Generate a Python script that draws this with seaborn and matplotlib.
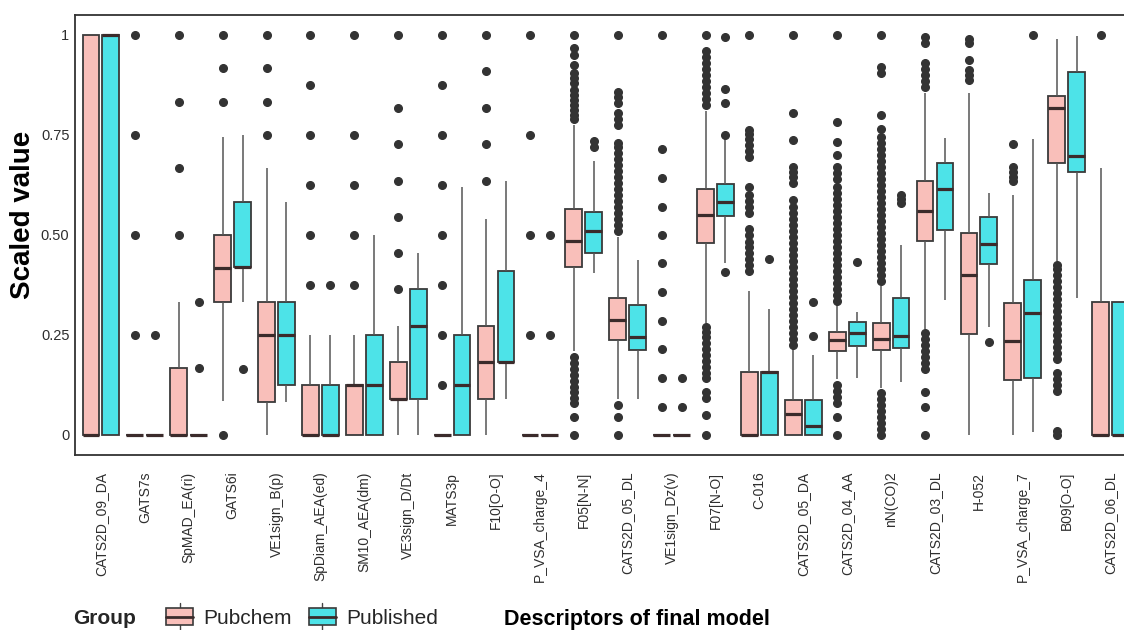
import numpy as np
import pandas as pd
import matplotlib
matplotlib.use("Agg")
import matplotlib.pyplot as plt
import seaborn as sns
from matplotlib.legend_handler import HandlerBase
from matplotlib.patches import Rectangle, Patch
from matplotlib.lines import Line2D

# ---------------- data ----------------
descriptors = ["CATS2D_09_DA", "GATS7s", "SpMAD_EA(ri)", "GATS6i", "VE1sign_B(p)",
               "SpDiam_AEA(ed)", "SM10_AEA(dm)", "VE3sign_D/Dt", "MATS3p", "F10[O-O]",
               "P_VSA_charge_4", "F05[N-N]", "CATS2D_05_DL", "VE1sign_Dz(v)", "F07[N-O]",
               "C-016", "CATS2D_05_DA", "CATS2D_04_AA", "nN(CO)2", "CATS2D_03_DL",
               "H-052", "P_VSA_charge_7", "B09[O-O]", "CATS2D_06_DL"]
groups = ["Pubchem", "Published"]

# Pubchem box statistics
pub_lo  = [0, 0, 0, 0.085, 0, 0, 0, 0, 0, 0, 0, 0.21, 0.09, 0, 0.28, 0, 0, 0.14, 0.118, 0.265, 0, 0, 0.435, 0]
pub_q1  = [0, 0, 0, 0.333, 0.083, 0, 0, 0.091, 0, 0.091, 0, 0.419, 0.2375, 0, 0.48, 0, 0, 0.21, 0.2125, 0.486, 0.2525, 0.1375, 0.68, 0]
pub_med = [0, 0, 0, 0.417, 0.25, 0, 0.125, 0.091, 0, 0.182, 0, 0.484, 0.2875, 0, 0.55, 0, 0.052, 0.2375, 0.24, 0.56, 0.4, 0.235, 0.8175, 0]
pub_q3  = [1, 0, 0.167, 0.5, 0.333, 0.125, 0.125, 0.182, 0, 0.273, 0, 0.564, 0.343, 0, 0.615, 0.157, 0.0875, 0.2575, 0.28, 0.635, 0.505, 0.33, 0.8475, 0.333]
pub_hi  = [1, 0, 0.333, 0.745, 0.667, 0.25, 0.25, 0.273, 0, 0.54, 0, 0.775, 0.495, 0, 0.81, 0.36, 0.215, 0.325, 0.3725, 0.855, 0.855, 0.6, 0.99, 0.667]
pub_out = [
    [],
    [0.25, 0.5, 0.75, 1.0],
    [0.5, 0.667, 0.833, 1.0],
    [0.0, 0.833, 0.917, 1.0],
    [0.75, 0.833, 0.917, 1.0],
    [0.375, 0.5, 0.625, 0.75, 0.875, 1.0],
    [0.375, 0.5, 0.625, 0.75, 1.0],
    [0.364, 0.455, 0.545, 0.636, 0.727, 0.818, 1.0],
    [0.125, 0.25, 0.375, 0.5, 0.625, 0.75, 0.875, 1.0],
    [0.636, 0.727, 0.818, 0.909, 1.0],
    [0.25, 0.5, 0.75, 1.0],
    [0.0, 0.044, 0.08, 0.092, 0.108, 0.12, 0.135, 0.15, 0.165, 0.18, 0.195,
     0.79, 0.80, 0.812, 0.825, 0.837, 0.85, 0.862, 0.88, 0.893, 0.905, 0.925, 0.95, 0.967, 1.0],
    [0.0, 0.044, 0.075, 0.51, 0.525, 0.54, 0.555, 0.57, 0.585, 0.60, 0.615, 0.63, 0.645,
     0.66, 0.675, 0.69, 0.705, 0.72, 0.73, 0.775, 0.79, 0.805, 0.83, 0.845, 0.858, 1.0],
    [0.071, 0.143, 0.214, 0.286, 0.357, 0.429, 0.5, 0.571, 0.643, 0.714, 1.0],
    [0.0, 0.05, 0.093, 0.108, 0.142, 0.155, 0.17, 0.185, 0.2, 0.215, 0.23, 0.245, 0.258, 0.27,
     0.825, 0.84, 0.855, 0.87, 0.885, 0.90, 0.915, 0.93, 0.945, 0.96, 1.0],
    [0.41, 0.425, 0.44, 0.455, 0.47, 0.483, 0.50, 0.515, 0.555, 0.57, 0.585, 0.60, 0.62,
     0.695, 0.71, 0.725, 0.74, 0.752, 0.763, 1.0],
    [0.225, 0.24, 0.255, 0.27, 0.285, 0.30, 0.315, 0.33, 0.345, 0.36, 0.375, 0.39, 0.405,
     0.42, 0.435, 0.45, 0.465, 0.48, 0.495, 0.51, 0.525, 0.54, 0.555, 0.57, 0.587, 0.63,
     0.645, 0.658, 0.67, 0.7375, 0.804, 1.0],
    [0.0, 0.046, 0.08, 0.095, 0.11, 0.125, 0.335, 0.35, 0.365, 0.38, 0.395, 0.41, 0.425,
     0.44, 0.455, 0.47, 0.485, 0.50, 0.515, 0.53, 0.545, 0.56, 0.575, 0.59, 0.605, 0.62,
     0.64, 0.655, 0.67, 0.70, 0.7325, 0.7825, 1.0],
    [0.0, 0.015, 0.03, 0.045, 0.06, 0.075, 0.09, 0.105, 0.385, 0.40, 0.415, 0.43, 0.445,
     0.46, 0.475, 0.49, 0.505, 0.52, 0.535, 0.55, 0.565, 0.58, 0.595, 0.61, 0.625, 0.64,
     0.655, 0.67, 0.685, 0.70, 0.715, 0.73, 0.745, 0.765, 0.80, 0.905, 0.92, 1.0],
    [0.0, 0.071, 0.108, 0.165, 0.18, 0.195, 0.21, 0.225, 0.24, 0.255,
     0.87, 0.885, 0.90, 0.915, 0.93, 0.98, 0.995],
    [0.888, 0.90, 0.912, 0.9375, 0.98, 0.99],
    [0.635, 0.645, 0.658, 0.67, 0.7275],
    [0.0, 0.01, 0.11, 0.125, 0.14, 0.155, 0.19, 0.205, 0.22, 0.235, 0.25, 0.265, 0.28,
     0.295, 0.31, 0.325, 0.34, 0.355, 0.37, 0.385, 0.40, 0.415, 0.425],
    [1.0],
]

# Published box statistics
pbl_lo  = [0, 0, 0, 0.333, 0.083, 0, 0, 0, 0, 0.091, 0, 0.404, 0.091, 0, 0.43, 0, 0, 0.1425, 0.1325, 0.3375, 0.27, 0.0075, 0.3425, 0]
pbl_q1  = [0, 0, 0, 0.42, 0.125, 0, 0, 0.091, 0, 0.182, 0, 0.454, 0.2125, 0, 0.547, 0, 0, 0.2225, 0.2175, 0.5125, 0.4275, 0.1425, 0.6575, 0]
pbl_med = [1, 0, 0, 0.42, 0.25, 0, 0.125, 0.273, 0.125, 0.182, 0, 0.511, 0.246, 0, 0.583, 0.157, 0.023, 0.255, 0.2475, 0.615, 0.4775, 0.305, 0.6975, 0]
pbl_q3  = [1, 0, 0, 0.583, 0.333, 0.125, 0.25, 0.364, 0.25, 0.409, 0, 0.557, 0.324, 0, 0.6275, 0.157, 0.0875, 0.2825, 0.3425, 0.68, 0.545, 0.3875, 0.9075, 0.333]
pbl_hi  = [1, 0, 0, 0.75, 0.583, 0.25, 0.5, 0.455, 0.62, 0.636, 0, 0.684, 0.4375, 0, 0.74, 0.315, 0.2, 0.3075, 0.475, 0.7425, 0.605, 0.74, 0.9975, 0.333]
pbl_out = [
    [], [0.25], [0.167, 0.333], [0.165], [], [0.375], [], [], [], [], [0.25, 0.5],
    [0.72, 0.735], [], [0.071, 0.143], [0.408, 0.75, 0.829, 0.865, 0.995], [0.44],
    [0.248, 0.333], [0.4325], [0.58, 0.59, 0.60], [], [0.2325], [1.0], [], [],
]

colors = {"Pubchem": "#F9BFBA", "Published": "#4DE3E8"}

# ---------- long-form table reproducing each box's statistics ----------
M = 400  # weight of the quartile values so that the quantiles match exactly
stats = {
    "Pubchem": (pub_lo, pub_q1, pub_med, pub_q3, pub_hi, pub_out),
    "Published": (pbl_lo, pbl_q1, pbl_med, pbl_q3, pbl_hi, pbl_out),
}
rows_d, rows_g, rows_v = [], [], []
for g in groups:
    lo, q1, med, q3, hi, outs = stats[g]
    for i, d in enumerate(descriptors):
        vals = list(outs[i]) + [lo[i], hi[i]] + [q1[i]] * M + [med[i]] * M + [q3[i]] * M
        rows_d += [d] * len(vals)
        rows_g += [g] * len(vals)
        rows_v += vals
df = pd.DataFrame({"descriptor": rows_d, "group": rows_g, "value": rows_v})

# ---------------- plot ----------------
sns.set_theme(style="white")
plt.rcParams["font.family"] = ["Liberation Sans", "DejaVu Sans"]

W, H = 1124, 630
fig = plt.figure(figsize=(W / 100, H / 100), dpi=100)
ax = fig.add_axes([75 / W, 175 / H, 1061.5 / W, 440 / H])

edge = "#3a3a3a"
sns.boxplot(
    data=df, x="descriptor", y="value", hue="group",
    order=descriptors, hue_order=groups, palette=colors, saturation=1,
    width=0.91, gap=0.16, whis=1.5, showcaps=False,
    linewidth=1.3, linecolor=edge, fliersize=5.5,
    flierprops=dict(marker="o", markerfacecolor="#333333", markeredgecolor="#333333"),
    medianprops=dict(color="#3b2b2b", linewidth=2.3),
    whiskerprops=dict(color="#555555", linewidth=1.1),
    legend=False, ax=ax,
)

ax.set_xlim(-0.59, 23.59)
ax.set_ylim(-0.05, 1.05)
ax.set_yticks([0, 0.25, 0.5, 0.75, 1])
ax.set_yticklabels(["0", "0.25", "0.50", "0.75", "1"])
ax.tick_params(axis="x", rotation=90, labelsize=10, length=0, pad=12, labelcolor="#2e2e2e")
ax.tick_params(axis="y", labelsize=10.5, length=0, pad=4, labelcolor="#2e2e2e")
for s in ax.spines.values():
    s.set_visible(True)
    s.set_color("#333333")
    s.set_linewidth(1.3)

ax.set_ylabel("Scaled value", fontsize=20, fontweight="bold", color="black")
ax.yaxis.set_label_coords((23 - 75) / 1061.5, (455 - 215) / 440)
ax.yaxis.label.set_va("center")
ax.set_xlabel("Descriptors of final model", fontsize=15.5, fontweight="bold", color="black")
ax.xaxis.set_label_coords((637 - 75) / 1061.5, (455 - 619) / 440)
ax.xaxis.label.set_va("center")


class BoxKey(HandlerBase):
    def create_artists(self, legend, orig, xd, yd, w, h, fs, trans):
        fc = orig.get_facecolor()
        x0, y0 = -xd, -yd
        cx = x0 + w / 2
        wl = Line2D([cx, cx], [y0 - 0.3 * h, y0 + 1.3 * h], color="#444444", lw=1.0, transform=trans)
        r = Rectangle((x0, y0), w, h, facecolor=fc, edgecolor=edge, lw=1.2, transform=trans)
        m = Line2D([x0, x0 + w], [y0 + h / 2] * 2, color="#3b2b2b", lw=2.0, transform=trans)
        return [wl, r, m]


handles = [Patch(facecolor=colors[g]) for g in groups]
fig.legend(handles=handles, labels=groups, handler_map={Patch: BoxKey()},
           loc="center left", bbox_to_anchor=(166 / W, 1 - 618 / H), ncol=2,
           frameon=False, fontsize=15, handlelength=1.3, handleheight=0.9,
           handletextpad=0.5, columnspacing=0.8, borderpad=0, borderaxespad=0)
fig.text(73 / W, 1 - 619 / H, "Group", fontsize=15, fontweight="bold", va="center", ha="left")

fig.savefig("out.png", dpi=100)
